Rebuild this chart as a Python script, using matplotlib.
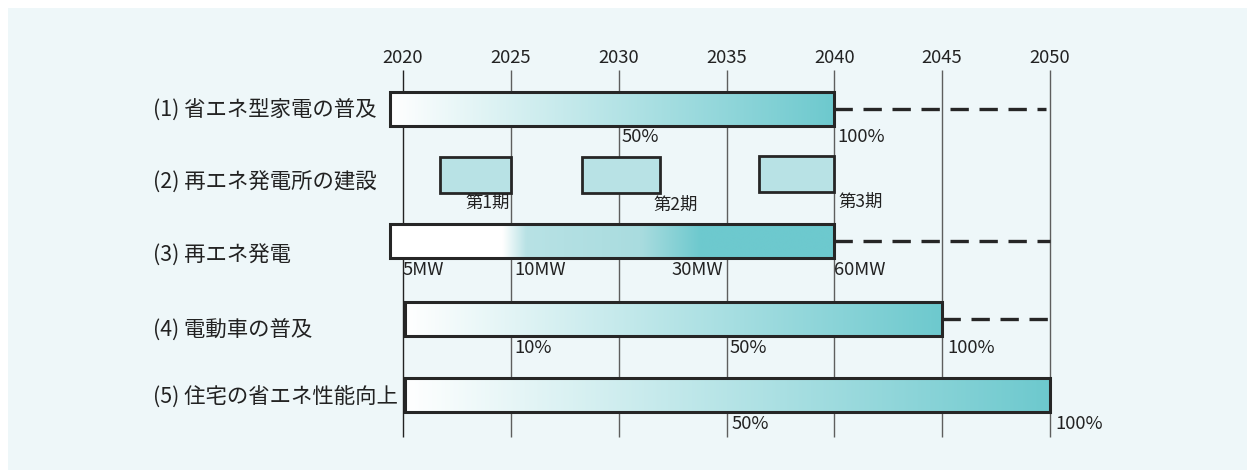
import numpy as np
import matplotlib
matplotlib.use("Agg")
import matplotlib.pyplot as plt
from matplotlib.patches import Rectangle
from matplotlib.colors import to_rgb

plt.rcParams['font.family'] = ['Noto Sans CJK JP', 'DejaVu Sans']

# --- data ---
years = [2020, 2025, 2030, 2035, 2040, 2045, 2050]
rows = ["(1) 省エネ型家電の普及", "(2) 再エネ発電所の建設", "(3) 再エネ発電",
        "(4) 電動車の普及", "(5) 住宅の省エネ性能向上"]

# gradient bars: (row, start, end, dashed-to)
bar_rows = [0, 2, 3, 4]
bar_start = [2019.4, 2019.4, 2020.1, 2020.1]
bar_end = [2040, 2040, 2045, 2050]
dash_end = [2049.8, 2050, 2050, None]

# construction phases (row 2)
phase_start = [2021.7, 2028.3, 2036.5]
phase_end = [2025.0, 2031.9, 2040.0]
phase_labels = ["第1期", "第2期", "第3期"]

# milestone labels per row: (text, year)
milestones = {
    0: [("50%", 2030), ("100%", 2040)],
    2: [("5MW", 2020), ("10MW", 2025), ("30MW", 2035), ("60MW", 2040)],
    3: [("10%", 2025), ("50%", 2035), ("100%", 2045)],
    4: [("50%", 2035), ("100%", 2050)],
}

# --- style / layout ---
TEAL = "#6dc9ce"
LIGHT = "#b8e2e5"
WHITE = "#ffffff"
EDGE = "#262626"
BG = "#eef7f9"

W, H = 1247, 470
px_year = (1050 - 403) / 30.0
x_left = 2020 - 403 / px_year
x_right = 2050 + (W - 1050) / px_year

row_label_y = [110, 183, 256, 330, 398]
bar_top = {0: 92, 2: 224, 3: 302, 4: 378}
bar_h = 34
phase_top = [157, 157, 156]
phase_h = 36
ms_y = {0: 137, 2: 270, 3: 348, 4: 424}

fig = plt.figure(figsize=(W / 100, H / 100), dpi=100)
fig.patch.set_facecolor("white")
ax = fig.add_axes([0, 0, 1, 1])
ax.set_xlim(x_left, x_right)
ax.set_ylim(H, 0)
ax.axis("off")

# background panel
ax.add_patch(Rectangle((x_left + 8 / px_year, 8), (W - 8) / px_year, H - 8,
                       facecolor=BG, edgecolor="none", zorder=0))

# grid lines and year labels
for i, y in enumerate(years):
    ax.vlines(y, 70, 437, color="#222222" if i == 0 else "#5e5e5e", lw=1.0, zorder=1)
    ax.text(y, 58, str(y), ha="center", va="center", fontsize=13.3, color="#222222")


def gradient(x0, x1, stops, n=400):
    xs = np.linspace(x0, x1, n)
    sx = [s[0] for s in stops]
    cols = np.array([to_rgb(s[1]) for s in stops])
    img = np.stack([np.interp(xs, sx, cols[:, k]) for k in range(3)], axis=-1)
    return img[np.newaxis, :, :]


grad_stops = {
    0: [(2019.4, WHITE), (2040, TEAL)],
    2: [(2019.4, WHITE), (2024.6, WHITE), (2025.7, LIGHT), (2031.0, "#a9dcdf"),
        (2033.8, TEAL), (2040, TEAL)],
    3: [(2020.1, WHITE), (2045, TEAL)],
    4: [(2020.1, WHITE), (2050, TEAL)],
}

for r, x0, x1, xd in zip(bar_rows, bar_start, bar_end, dash_end):
    top = bar_top[r]
    ax.imshow(gradient(x0, x1, grad_stops[r]), extent=(x0, x1, top + bar_h, top),
              aspect="auto", interpolation="bilinear", zorder=2)
    ax.add_patch(Rectangle((x0, top), x1 - x0, bar_h, facecolor="none",
                           edgecolor=EDGE, lw=2.2, zorder=3))
    if xd is not None:
        ax.plot([x1, xd], [top + bar_h / 2] * 2, color=EDGE, lw=2.4,
                dashes=(5.5, 3.2), zorder=3)

# construction phase boxes
for x0, x1, top in zip(phase_start, phase_end, phase_top):
    ax.add_patch(Rectangle((x0, top), x1 - x0, phase_h, facecolor=LIGHT,
                           edgecolor=EDGE, lw=2.0, zorder=3))
ax.text(phase_end[0] - 0.05, 203, phase_labels[0], ha="right", va="center", fontsize=12.5, color="#222222")
ax.text(phase_end[1] - 0.3, 205, phase_labels[1], ha="left", va="center", fontsize=12.5, color="#222222")
ax.text(phase_end[2] + 0.2, 202, phase_labels[2], ha="left", va="center", fontsize=12.5, color="#222222")

# milestone labels
for r, items in milestones.items():
    for txt, yr in items:
        if r == 2 and txt == "30MW":
            ax.text(yr - 0.15, ms_y[r], txt, ha="right", va="center", fontsize=13.3, color="#222222")
        else:
            off = 0.25 if yr == 2045 or (r == 4) else 0.15
            if txt in ("5MW", "60MW"):
                off = 0.0
            ax.text(yr + off, ms_y[r], txt, ha="left", va="center", fontsize=13.3, color="#222222")

# row labels
for lab, y in zip(rows, row_label_y):
    ax.text(x_left + 153 / px_year, y, lab, ha="left", va="center", fontsize=15.4, color="#222222")

fig.savefig("out.png", dpi=100, facecolor=fig.get_facecolor())
